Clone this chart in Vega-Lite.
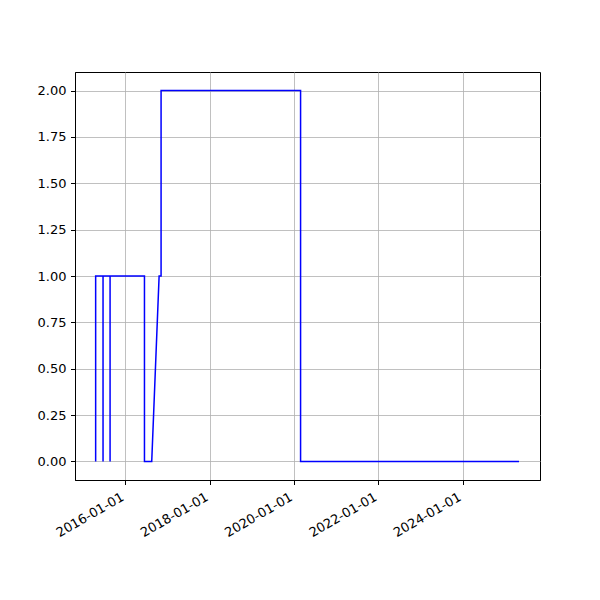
{
  "$schema": "https://vega.github.io/schema/vega-lite/v6.json",
  "width": 465,
  "height": 408,
  "autosize": "none",
  "padding": {"left": 75, "top": 72, "right": 60, "bottom": 120},
  "background": "white",
  "config": {
    "font": "DejaVu Sans",
    "view": {"stroke": "black", "strokeWidth": 1},
    "axis": {
      "labelFont": "DejaVu Sans",
      "labelFontSize": 13,
      "labelColor": "black",
      "domainColor": "black",
      "tickColor": "black",
      "tickSize": 4.5,
      "gridColor": "#b0b0b0",
      "gridWidth": 0.8,
      "labelPadding": 4.5
    }
  },
  "data": {
    "values": [
      {"i": 1, "date": "2015-04-18", "value": 0},
      {"i": 2, "date": "2015-04-18", "value": 1},
      {"i": 3, "date": "2015-06-21", "value": 1},
      {"i": 4, "date": "2015-06-21", "value": 0},
      {"i": 5, "date": "2015-06-21", "value": 1},
      {"i": 6, "date": "2015-08-21", "value": 1},
      {"i": 7, "date": "2015-08-21", "value": 0},
      {"i": 8, "date": "2015-08-21", "value": 1},
      {"i": 9, "date": "2016-06-14", "value": 1},
      {"i": 10, "date": "2016-06-14", "value": 0},
      {"i": 11, "date": "2016-08-16", "value": 0},
      {"i": 12, "date": "2016-10-19", "value": 1},
      {"i": 13, "date": "2016-11-05", "value": 1},
      {"i": 14, "date": "2016-11-05", "value": 2},
      {"i": 15, "date": "2020-02-27", "value": 2},
      {"i": 16, "date": "2020-02-27", "value": 0},
      {"i": 17, "date": "2025-05-04", "value": 0}
    ]
  },
  "mark": {"type": "line", "color": "#0000ff", "strokeWidth": 1.5},
  "encoding": {
    "x": {
      "field": "date",
      "type": "temporal",
      "scale": {"type": "utc", "domain": [{"year": 2014, "month": 10, "date": 21, "utc": true}, {"year": 2025, "month": 11, "date": 2, "utc": true}], "nice": false},
      "axis": {
        "title": null,
        "labelExpr": "utcFormat(datum.value, '%Y-%m-%d')",
        "values": [
          {"year": 2016, "month": 1, "date": 1, "utc": true},
          {"year": 2018, "month": 1, "date": 1, "utc": true},
          {"year": 2020, "month": 1, "date": 1, "utc": true},
          {"year": 2022, "month": 1, "date": 1, "utc": true},
          {"year": 2024, "month": 1, "date": 1, "utc": true}
        ],
        "labelAngle": -30,
        "labelAlign": "right",
        "labelBaseline": "top",
        "labelOffset": -6,
        "labelPadding": 6,
        "grid": true
      }
    },
    "y": {
      "field": "value",
      "type": "quantitative",
      "scale": {"domain": [-0.1, 2.1], "nice": false, "zero": false},
      "axis": {
        "title": null,
        "format": ".2f",
        "values": [0, 0.25, 0.5, 0.75, 1, 1.25, 1.5, 1.75, 2],
        "grid": true
      }
    },
    "order": {"field": "i", "type": "quantitative"}
  }
}
